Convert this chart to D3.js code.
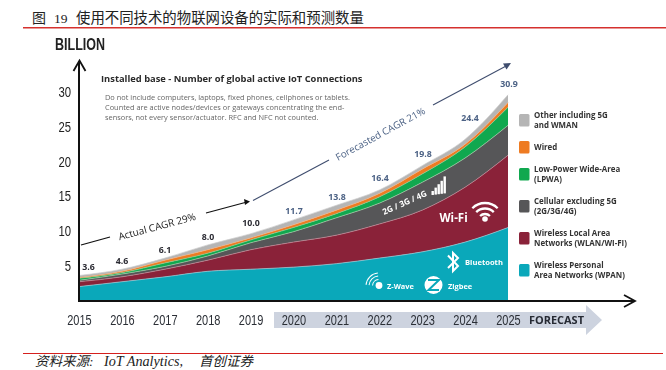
<!DOCTYPE html>
<html>
<head>
<meta charset="utf-8">
<script src="https://cdn.jsdelivr.net/npm/d3@7"></script>
<style>
  html, body { margin: 0; padding: 0; background: #fff; overflow: hidden; }
  svg { display: block; }
  .tick-font { font-family: "Liberation Sans", sans-serif; }
  .sans { font-family: "Open Sans", "Noto Sans", sans-serif; }
</style>
</head>
<body>
<div id="chart"></div>
<script>
const years = ["2015", "2016", "2017", "2018", "2019", "2020", "2021", "2022", "2023", "2024", "2025"];
const yTicks = [5, 10, 15, 20, 25, 30];

// billions, bottom layer first
const wpan = [2.0, 2.7, 3.4, 4.2, 4.5, 4.8, 5.3, 6.1, 7.0, 8.4, 10.5];
const wlan = [0.7, 0.7, 1.1, 1.6, 2.8, 3.6, 4.1, 4.9, 6.0, 7.9, 10.4];
const cellular = [0.2, 0.4, 0.4, 0.6, 1.0, 1.5, 2.5, 3.0, 4.0, 4.2, 4.3];
const lpwa = [0.3, 0.2, 0.5, 0.4, 0.4, 0.6, 0.6, 0.9, 1.2, 1.6, 2.6];
const wired = [0.1, 0.2, 0.4, 0.5, 0.3, 0.4, 0.5, 0.5, 0.7, 0.4, 0.7];
const other = [0.3, 0.3, 0.3, 0.7, 0.6, 0.7, 0.7, 0.5, 0.5, 0.7, 1.1];

const totals = ["3.6", "4.6", "6.1", "8.0", "10.0", "11.7", "13.8", "16.4", "19.8", "24.4", "30.9"];

const layerNames = ["wpan", "wlan", "cellular", "lpwa", "wired", "other"];
const layerValues = [wpan, wlan, cellular, lpwa, wired, other];
const layerColors = ["#0aa8ba", "#8a2239", "#565658", "#10a84f", "#ee7b22", "#b5b5b5"];
const layerEdges = ["#8fd3dc", "#c98a98", "#a8c8a8", "#7fd09a", "#f4b080", "#d0d0d0"];

const legendLabels = [
  ["Other including 5G", "and WMAN"],
  ["Wired"],
  ["Low-Power Wide-Area", "(LPWA)"],
  ["Cellular excluding 5G", "(2G/3G/4G)"],
  ["Wireless Local Area", "Networks (WLAN/WI-FI)"],
  ["Wireless Personal", "Area Networks (WPAN)"],
];
const legendColors = ["#b5b5b5", "#ee7b22", "#10a84f", "#565658", "#8a2239", "#0aa8ba"];

const noteLines = [
  "Do not include computers, laptops, fixed phones, cellphones or tablets.",
  "Counted are active nodes/devices or gateways concentrating the end-",
  "sensors, not every sensor/actuator. RFC and NFC not counted.",
];

const width = 666;
const height = 370;

const svg = d3.select("#chart").append("svg").attr("width", width).attr("height", height);

//========== header and footer =============
const serif = '"Liberation Serif", "Noto Sans CJK SC", serif';
const cjk = '"Noto Sans CJK SC", sans-serif';

svg.append("text").attr("x", 32).attr("y", 23).style("font-family", cjk).style("font-size", "14px").attr("fill", "#222").text("图");
svg.append("text").attr("x", 54).attr("y", 23).style("font-family", serif).style("font-size", "13.5px").attr("fill", "#222").text("19");
svg.append("text").attr("x", 76).attr("y", 23).style("font-family", cjk).style("font-size", "14.4px").attr("fill", "#222")
  .text("使用不同技术的物联网设备的实际和预测数量");

svg.append("line").attr("x1", 23).attr("x2", 666).attr("y1", 27.8).attr("y2", 27.8).attr("stroke", "#d5312e").attr("stroke-width", 1.6);
svg.append("line").attr("x1", 23).attr("x2", 663).attr("y1", 353.5).attr("y2", 353.5).attr("stroke", "#d5201e").attr("stroke-width", 1);

const footer = svg.append("g").style("font-family", serif).style("font-style", "italic").attr("fill", "#222");
footer.append("text").attr("x", 35).attr("y", 366).style("font-size", "13.5px").text("资料来源:");
footer.append("text").attr("x", 104).attr("y", 366).style("font-size", "14.2px").text("IoT Analytics,");
footer.append("text").attr("x", 199).attr("y", 366).style("font-size", "13.5px").text("首创证券");

//========== chart =============
const plot = svg.append("g").style("filter", "blur(0.35px)");

const x = d3.scalePoint().domain(years).range([79, 508]);
const y = d3.scaleLinear().domain([0, 30]).range([300.5, 92]);

const table = years.map((yr, i) => {
  const row = { year: yr };
  layerNames.forEach((n, j) => (row[n] = layerValues[j][i]));
  return row;
});

const series = d3.stack().keys(layerNames)(table);

const area = d3
  .area()
  .curve(d3.curveMonotoneX)
  .x((d) => x(d.data.year))
  .y0((d) => y(d[0]))
  .y1((d) => y(d[1]));

const topLine = d3
  .line()
  .curve(d3.curveMonotoneX)
  .x((d) => x(d.data.year))
  .y((d) => y(d[1]));

plot.append("g").selectAll("path").data(series).join("path")
  .attr("fill", (d, i) => layerColors[i])
  .attr("d", area);

plot.append("g").selectAll("path").data(series).join("path")
  .attr("fill", "none")
  .attr("stroke", (d, i) => layerEdges[i])
  .attr("stroke-width", 0.7)
  .attr("d", topLine);

// forecast band sits under the year labels
plot.append("path")
  .attr("d", "M274,312H586V305L602,320L586,335V328H274Z")
  .attr("fill", "#cdd3df");

// axes
const xAxis = plot.append("g").attr("transform", "translate(0,325)")
  .call(d3.axisBottom(x).tickSize(0).tickPadding(0));
xAxis.select(".domain").remove();
xAxis.selectAll("text").attr("class", "tick-font").attr("dy", 0).attr("y", 0)
  .attr("textLength", 24.5).attr("lengthAdjust", "spacingAndGlyphs")
  .style("font-size", "14px").attr("fill", "#2b2f36");

const yAxis = plot.append("g").attr("transform", "translate(71,0)")
  .call(d3.axisLeft(y).tickValues(yTicks).tickSize(0).tickPadding(0));
yAxis.select(".domain").remove();
yAxis.selectAll("text").attr("class", "tick-font")
  .attr("textLength", (d) => (d < 10 ? 6.3 : 12.6)).attr("lengthAdjust", "spacingAndGlyphs")
  .style("font-size", "14.5px").attr("fill", "#222");

plot.append("path").attr("d", "M79,301V61").attr("fill", "none").attr("stroke", "#111").attr("stroke-width", 2);
plot.append("path").attr("d", "M73.5,71L79.5,60.5L85.5,71").attr("fill", "none").attr("stroke", "#111").attr("stroke-width", 1.8);
plot.append("path").attr("d", "M78,301H634").attr("fill", "none").attr("stroke", "#111").attr("stroke-width", 2);
plot.append("path").attr("d", "M624,295L635,301L624,307").attr("fill", "none").attr("stroke", "#111").attr("stroke-width", 1.8);

plot.append("text").attr("class", "tick-font").attr("x", 55).attr("y", 50)
  .attr("textLength", 50).attr("lengthAdjust", "spacingAndGlyphs")
  .style("font-size", "16.5px").style("font-weight", "700").attr("fill", "#222").text("BILLION");

plot.append("text").attr("class", "sans").attr("x", 529).attr("y", 324)
  .attr("textLength", 55).attr("lengthAdjust", "spacingAndGlyphs")
  .style("font-size", "10px").style("font-weight", "700").attr("fill", "#262a33").text("FORECAST");

// totals above the stack
const totalAnchor = [
  [88.5, 270], [122, 264], [165, 253], [208, 240], [251, 226], [294, 214],
  [337, 200], [380, 181], [423, 157], [470, 121], [509, 87],
];
plot.append("g").selectAll("text").data(totals).join("text")
  .attr("class", "sans")
  .attr("x", (d, i) => totalAnchor[i][0])
  .attr("y", (d, i) => totalAnchor[i][1])
  .attr("text-anchor", "middle")
  .style("font-size", "8.8px").style("font-weight", "700")
  .attr("fill", (d, i) => (i < 5 ? "#2b2b33" : "#4c6285"))
  .text((d) => d);

// titles
plot.append("text").attr("class", "sans").attr("x", 101).attr("y", 82)
  .style("font-size", "9.35px").style("font-weight", "700").attr("fill", "#2a2a2a")
  .text("Installed base - Number of global active IoT Connections");

plot.append("g").selectAll("text").data(noteLines).join("text")
  .attr("class", "sans").attr("x", 105).attr("y", (d, i) => 99.5 + i * 10)
  .style("font-size", "7.4px").attr("fill", "#666").text((d) => d);

// CAGR arrows
const actual = "#111";
const forecast = "#3f4d6e";
plot.append("path").attr("d", "M81,245L110,237").attr("stroke", actual).attr("stroke-width", 1.2);
plot.append("path").attr("d", "M206,213L247,202").attr("stroke", actual).attr("stroke-width", 1.2);
plot.append("path").attr("d", "M244,199L250,201.5L245,205Z").attr("fill", actual);
plot.append("text").attr("class", "sans").attr("text-anchor", "middle")
  .attr("transform", "translate(158,230) rotate(-15)")
  .style("font-size", "10px").attr("fill", "#222").text("Actual CAGR 29%");

plot.append("path").attr("d", "M253,200.5L329,160").attr("stroke", forecast).attr("stroke-width", 1.1);
plot.append("path").attr("d", "M433,105L508,65").attr("stroke", forecast).attr("stroke-width", 1.1);
plot.append("path").attr("d", "M503,63.5L511,63L506.5,69.5Z").attr("fill", forecast);
plot.append("text").attr("class", "sans").attr("text-anchor", "middle")
  .attr("transform", "translate(382,137) rotate(-28.5)")
  .style("font-size", "9.8px").attr("fill", "#4c6285").text("Forecasted CAGR 21%");

// legend
const legendRow = [120, 147, 174, 206, 238, 270];
const legend = plot.append("g").selectAll("g").data(legendLabels).join("g")
  .attr("transform", (d, i) => `translate(519,${legendRow[i]})`);
legend.append("rect").attr("x", 0).attr("y", -6).attr("width", 10.5).attr("height", 12.5).attr("rx", 1.5)
  .attr("fill", (d, i) => legendColors[i]);
legend.selectAll("text").data((d) => d).join("text")
  .attr("class", "sans").attr("x", 15)
  .attr("y", (d, i, nodes) => (nodes.length === 1 ? 3 : -2 + i * 9.6))
  .style("font-size", "7.9px").style("font-weight", "700").attr("fill", "#333").text((d) => d);

//========== icons and labels on the areas =============
const overlay = plot.append("g").attr("fill", "#fff");

overlay.append("text").attr("class", "sans").attr("x", 439.5).attr("y", 222)
  .style("font-size", "11.5px").style("font-weight", "700").text("Wi-Fi");

const arc = (cx, cy, r, a) => {
  const p = d3.path();
  p.arc(cx, cy, r, -Math.PI / 2 - a, -Math.PI / 2 + a);
  return p.toString();
};
overlay.append("circle").attr("cx", 485).attr("cy", 219).attr("r", 2.8);
[7, 12.5, 18].forEach((r) => {
  overlay.append("path").attr("d", arc(485, 221, r, 0.78)).attr("fill", "none").attr("stroke", "#fff").attr("stroke-width", 2.3);
});

overlay.append("text").attr("class", "sans")
  .attr("transform", "translate(384,215) rotate(-24)")
  .style("font-size", "8.3px").style("font-weight", "700").text("2G / 3G / 4G");

const barHeights = [4, 7, 10, 13, 17];
overlay.selectAll("rect.bar").data(barHeights).join("rect")
  .attr("class", "bar")
  .attr("x", (d, i) => 431.5 + i * 3)
  .attr("y", (d, i) => 195 - i * 0.4 - d)
  .attr("width", 2.4)
  .attr("height", (d) => d);

overlay.append("path").attr("d", "M448,255.5L458,266L453,271V253L458,258L448,268")
  .attr("fill", "none").attr("stroke", "#fff").attr("stroke-width", 2);
overlay.append("text").attr("class", "sans").attr("x", 465).attr("y", 264.5)
  .style("font-size", "7.6px").style("font-weight", "700").text("Bluetooth");

overlay.append("circle").attr("cx", 379).attr("cy", 285.5).attr("r", 3.4);
[6.5, 10, 13].forEach((r) => {
  overlay.append("path").attr("d", arc(379, 286, r, 0.7)).attr("transform", "rotate(-45 379 286)")
    .attr("fill", "none").attr("stroke", "#fff").attr("stroke-width", 1);
});
overlay.append("text").attr("class", "sans").attr("x", 387).attr("y", 288.5)
  .style("font-size", "7.4px").style("font-weight", "700").text("Z-Wave");

overlay.append("circle").attr("cx", 433.5).attr("cy", 285).attr("r", 9);
overlay.append("path").attr("d", "M428,280H439L428.5,290H439").attr("fill", "none").attr("stroke", "#0aa8ba").attr("stroke-width", 2);
overlay.append("text").attr("class", "sans").attr("x", 448).attr("y", 288.5)
  .style("font-size", "7.4px").style("font-weight", "700").text("Zigbee");
</script>
</body>
</html>
